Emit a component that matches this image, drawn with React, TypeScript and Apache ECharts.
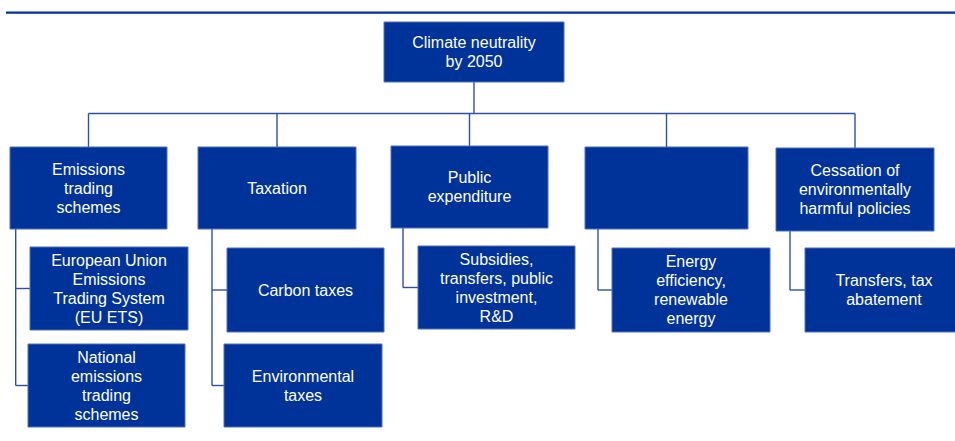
import React, { useEffect, useRef } from "react";
import * as echarts from "echarts";

// Node labels (org chart), parent links and box extents in chart units (x to the right, y downwards)
const nodeLabels: string[] = [
  "Climate neutrality\nby 2050",
  "Emissions\ntrading\nschemes",
  "Taxation",
  "Public\nexpenditure",
  "",
  "Cessation of\nenvironmentally\nharmful policies",
  "European Union\nEmissions\nTrading System\n(EU ETS)",
  "National\nemissions\ntrading\nschemes",
  "Carbon taxes",
  "Environmental\ntaxes",
  "Subsidies,\ntransfers, public\ninvestment,\nR&D",
  "Energy\nefficiency,\nrenewable\nenergy",
  "Transfers, tax\nabatement",
];

const nodeParents: number[] = [-1, 0, 0, 0, 0, 0, 1, 1, 2, 2, 3, 4, 5];

const nodeX0: number[] = [384, 10, 198, 391, 585, 776, 30, 28, 227, 224, 418, 612, 805];
const nodeY0: number[] = [22, 147, 147, 146, 147, 148, 247, 344, 248, 344, 246, 248, 248];
const nodeX1: number[] = [564, 167, 356, 548, 748, 934, 188, 185, 384, 382, 575, 770, 963];
const nodeY1: number[] = [82, 229, 229, 228, 229, 231, 330, 427, 332, 427, 329, 332, 332];

// x of the elbow connector below each second-level node (index = node index)
const elbowX: Record<number, number> = { 1: 15.7, 2: 212, 3: 403, 4: 598, 5: 790 };
const busY = 113.5;
const headerRule = { x0: 6, x1: 955, y: 12.7 };

const BOX_FILL = "#003399";
const BOX_EDGE = "#4f6fc0";
const LINE = "#2c50a8";

function buildConnectors(): number[][] {
  const segs: number[][] = [];
  const cx = (i: number) => (nodeX0[i] + nodeX1[i]) / 2;
  const cy = (i: number) => (nodeY0[i] + nodeY1[i]) / 2;
  const level1 = nodeParents.map((p, i) => (p === 0 ? i : -1)).filter((i) => i >= 0);
  segs.push([cx(0), nodeY1[0], cx(0), busY]);
  const xs = level1.map(cx);
  segs.push([Math.min(...xs), busY, Math.max(...xs), busY]);
  level1.forEach((i) => segs.push([cx(i), busY, cx(i), nodeY0[i]]));
  level1.forEach((p) => {
    const kids = nodeParents.map((q, i) => (q === p ? i : -1)).filter((i) => i >= 0);
    if (!kids.length) return;
    const ex = elbowX[p];
    const lastY = Math.max(...kids.map(cy));
    segs.push([ex, nodeY1[p], ex, lastY]);
    kids.forEach((k) => segs.push([ex, cy(k), nodeX0[k], cy(k)]));
  });
  return segs;
}

export default function App() {
  const ref = useRef<HTMLDivElement>(null);
  useEffect(() => {
    document.body.style.margin = "0";
    if (!ref.current) return;
    const chart = echarts.init(ref.current, undefined, { renderer: "svg" });
    const connectors = buildConnectors();
    const boxes = nodeLabels.map((_, i) => [nodeX0[i], nodeY0[i], nodeX1[i], nodeY1[i]]);
    chart.setOption({
      animation: false,
      grid: { left: 0, right: 0, top: 0, bottom: 0 },
      xAxis: { type: "value", min: 0, max: 955, show: false },
      yAxis: { type: "value", min: 0, max: 441, inverse: true, show: false },
      series: [
        {
          type: "custom",
          z: 1,
          data: [[headerRule.x0, headerRule.y, headerRule.x1, headerRule.y]],
          renderItem: (params: any, api: any) => {
            const a = api.coord([api.value(0), api.value(1)]);
            const b = api.coord([api.value(2), api.value(3)]);
            return {
              type: "line",
              shape: { x1: a[0], y1: a[1], x2: b[0], y2: b[1] },
              style: { stroke: BOX_FILL, lineWidth: 2.2 },
            };
          },
        },
        {
          type: "custom",
          z: 2,
          data: connectors,
          renderItem: (params: any, api: any) => {
            const a = api.coord([api.value(0), api.value(1)]);
            const b = api.coord([api.value(2), api.value(3)]);
            return {
              type: "line",
              shape: { x1: a[0], y1: a[1], x2: b[0], y2: b[1] },
              style: { stroke: LINE, lineWidth: 1.4 },
            };
          },
        },
        {
          type: "custom",
          z: 3,
          data: boxes,
          renderItem: (params: any, api: any) => {
            const a = api.coord([api.value(0), api.value(1)]);
            const b = api.coord([api.value(2), api.value(3)]);
            const label = nodeLabels[params.dataIndex];
            return {
              type: "group",
              children: [
                {
                  type: "rect",
                  shape: { x: a[0], y: a[1], width: b[0] - a[0], height: b[1] - a[1] },
                  style: { fill: BOX_FILL, stroke: BOX_EDGE, lineWidth: 1 },
                },
                {
                  type: "text",
                  style: {
                    text: label,
                    x: (a[0] + b[0]) / 2,
                    y: (a[1] + b[1]) / 2,
                    align: "center",
                    verticalAlign: "middle",
                    fill: "#ffffff",
                    fontSize: 16,
                    lineHeight: 19,
                    fontFamily: "Liberation Sans, Arial, sans-serif",
                  },
                },
              ],
            };
          },
        },
      ],
    });
    return () => chart.dispose();
  }, []);
  return <div ref={ref} style={{ width: 955, height: 441 }} />;
}
